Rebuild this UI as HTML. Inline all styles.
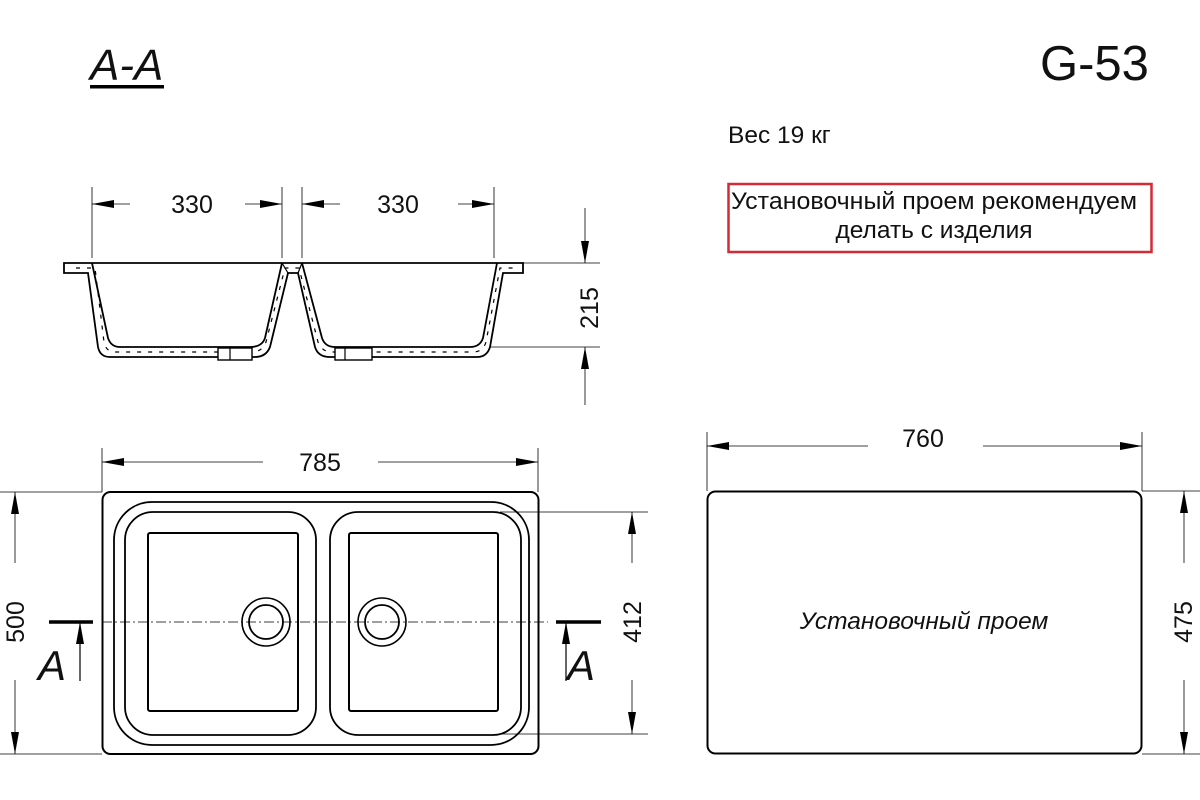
<!DOCTYPE html>
<html><head><meta charset="utf-8"><style>
html,body{margin:0;padding:0;background:#fff;}
svg{display:block;}
text{font-family:"Liberation Sans","Noto Sans CJK SC",sans-serif;fill:#111;}
</style></head><body>
<svg width="1200" height="800" viewBox="0 0 1200 800" xmlns="http://www.w3.org/2000/svg">
<defs>
<marker id="ar" viewBox="0 0 22 8" refX="22" refY="4" markerWidth="22" markerHeight="8" markerUnits="userSpaceOnUse" orient="auto"><path d="M0,0 L22,4 L0,8 Z" fill="#000"/></marker>
</defs>

<!-- Titles -->
<text x="90" y="80" font-size="44" font-style="italic">A-A</text>
<rect x="90" y="85" width="74" height="3.5" fill="#000"/>
<text x="1040" y="80" font-size="49">G-53</text>
<text x="728" y="143" font-size="24.5">Вес 19 кг</text>
<rect x="728.5" y="184" width="423" height="68" fill="none" stroke="#d42a35" stroke-width="2.5"/>
<text x="934" y="209" font-size="24.5" text-anchor="middle" textLength="406" lengthAdjust="spacingAndGlyphs">Установочный проем рекомендуем</text>
<text x="934" y="238" font-size="24.5" text-anchor="middle">делать с изделия</text>

<!-- Section -->
<g stroke="#000" fill="none">
 <line x1="92" y1="187" x2="92" y2="258" stroke-width="0.8"/>
 <line x1="282" y1="187" x2="282" y2="258" stroke-width="0.8"/>
 <line x1="302" y1="187" x2="302" y2="258" stroke-width="0.8"/>
 <line x1="494" y1="187" x2="494" y2="258" stroke-width="0.8"/>
 <line x1="130" y1="204" x2="92" y2="204" stroke-width="0.8" marker-end="url(#ar)"/>
 <line x1="245" y1="204" x2="282" y2="204" stroke-width="0.8" marker-end="url(#ar)"/>
 <line x1="340" y1="204" x2="302" y2="204" stroke-width="0.8" marker-end="url(#ar)"/>
 <line x1="458" y1="204" x2="494" y2="204" stroke-width="0.8" marker-end="url(#ar)"/>
 <line x1="500" y1="263" x2="600" y2="263" stroke-width="0.8"/>
 <line x1="485" y1="347" x2="600" y2="347" stroke-width="0.8"/>
 <line x1="585" y1="208" x2="585" y2="263" stroke-width="0.8" marker-end="url(#ar)"/>
 <line x1="585" y1="405" x2="585" y2="347" stroke-width="0.8" marker-end="url(#ar)"/>
 <path d="M64,263 L523,263 L523,273 L503,273 L490,347 Q487,357 477,357 L330,357 Q318,357 315,347 L298,273 L288,273 L270,347 Q266,357 255,357 L110,357 Q100,357 98,347 L88,273 L64,273 Z" fill="#fff" stroke-width="1.8"/>
 <path d="M92,263 L108,338 Q111,347 120,347 L250,347 Q262,347 265,338 L282,263 M302,263 L322,338 Q325,347 335,347 L470,347 Q480,347 483,338 L497,263" stroke-width="1.8"/>
 <path d="M282,263 L288,273 M302,263 L298,273" stroke-width="1.2"/>
 <path d="M76,268 L95,268 L104,342 Q106,352 115,352 L252,352 Q262,352 266,342 L285,268 L299,268 L318,342 Q322,352 332,352 L473,352 Q483,352 486,342 L500,268 L518,268" stroke-width="1.2" stroke-dasharray="4 7"/>
 <rect x="218" y="348" width="34" height="12" fill="#fff" stroke-width="1.4"/>
 <line x1="230" y1="348" x2="230" y2="360" stroke-width="1.2"/>
 <rect x="335" y="348" width="37" height="12" fill="#fff" stroke-width="1.4"/>
 <line x1="345" y1="348" x2="345" y2="360" stroke-width="1.2"/>
</g>
<text x="192" y="213" font-size="25" text-anchor="middle">330</text>
<text x="398" y="213" font-size="25" text-anchor="middle">330</text>
<text transform="translate(598,308) rotate(-90)" font-size="25" text-anchor="middle">215</text>

<!-- Plan view -->
<g stroke="#000" fill="none">
 <line x1="102" y1="448" x2="102" y2="492" stroke-width="0.8"/>
 <line x1="538" y1="448" x2="538" y2="492" stroke-width="0.8"/>
 <line x1="263" y1="462" x2="102" y2="462" stroke-width="0.8" marker-end="url(#ar)"/>
 <line x1="378" y1="462" x2="538" y2="462" stroke-width="0.8" marker-end="url(#ar)"/>
 <line x1="0" y1="492" x2="102" y2="492" stroke-width="0.8"/>
 <line x1="0" y1="754" x2="102" y2="754" stroke-width="0.8"/>
 <line x1="15" y1="563" x2="15" y2="492" stroke-width="0.8" marker-end="url(#ar)"/>
 <line x1="15" y1="680" x2="15" y2="754" stroke-width="0.8" marker-end="url(#ar)"/>
 <line x1="500" y1="512" x2="648" y2="512" stroke-width="0.8"/>
 <line x1="500" y1="734" x2="648" y2="734" stroke-width="0.8"/>
 <line x1="632" y1="563" x2="632" y2="512" stroke-width="0.8" marker-end="url(#ar)"/>
 <line x1="632" y1="680" x2="632" y2="734" stroke-width="0.8" marker-end="url(#ar)"/>
 <rect x="102.5" y="492" width="436" height="262" rx="8" stroke-width="2"/>
 <rect x="114" y="502" width="415" height="243" rx="38" stroke-width="1.8"/>
 <rect x="125" y="512" width="191" height="223" rx="28" stroke-width="1.8"/>
 <rect x="330" y="512" width="191" height="223" rx="28" stroke-width="1.8"/>
 <rect x="148" y="533" width="150" height="178" rx="2" stroke-width="2"/>
 <rect x="349" y="533" width="149" height="178" rx="2" stroke-width="2"/>
 <circle cx="266" cy="622" r="24" stroke-width="1.6"/>
 <circle cx="266" cy="622" r="17" stroke-width="1.8"/>
 <circle cx="382" cy="622" r="24" stroke-width="1.6"/>
 <circle cx="382" cy="622" r="17" stroke-width="1.8"/>
 <line x1="102" y1="622" x2="548" y2="622" stroke-width="0.8" stroke-dasharray="10 3 2 3"/>
 <line x1="49" y1="622" x2="93" y2="622" stroke-width="3.5"/>
 <line x1="556" y1="622" x2="601" y2="622" stroke-width="3.5"/>
 <line x1="80" y1="681" x2="80" y2="622" stroke-width="1.2" marker-end="url(#ar)"/>
 <line x1="566" y1="681" x2="566" y2="622" stroke-width="1.2" marker-end="url(#ar)"/>
</g>
<text x="320" y="471" font-size="25" text-anchor="middle">785</text>
<text transform="translate(24,622) rotate(-90)" font-size="25" text-anchor="middle">500</text>
<text transform="translate(641,622) rotate(-90)" font-size="25" text-anchor="middle">412</text>
<text x="38" y="680" font-size="42" font-style="italic">A</text>
<text x="567" y="680" font-size="42" font-style="italic">A</text>

<!-- Opening -->
<g stroke="#000" fill="none">
 <line x1="707" y1="432" x2="707" y2="491" stroke-width="0.8"/>
 <line x1="1142" y1="432" x2="1142" y2="491" stroke-width="0.8"/>
 <line x1="868" y1="446" x2="707" y2="446" stroke-width="0.8" marker-end="url(#ar)"/>
 <line x1="983" y1="446" x2="1142" y2="446" stroke-width="0.8" marker-end="url(#ar)"/>
 <line x1="1142" y1="491" x2="1200" y2="491" stroke-width="0.8"/>
 <line x1="1142" y1="754" x2="1200" y2="754" stroke-width="0.8"/>
 <line x1="1184" y1="563" x2="1184" y2="491" stroke-width="0.8" marker-end="url(#ar)"/>
 <line x1="1184" y1="680" x2="1184" y2="754" stroke-width="0.8" marker-end="url(#ar)"/>
 <rect x="707.5" y="491.5" width="434" height="262" rx="8" stroke-width="2"/>
</g>
<text x="923" y="447" font-size="25" text-anchor="middle">760</text>
<text x="924" y="629" font-size="24.5" font-style="italic" text-anchor="middle">Установочный проем</text>
<text transform="translate(1192,622) rotate(-90)" font-size="25" text-anchor="middle">475</text>
</svg>
</body></html>
